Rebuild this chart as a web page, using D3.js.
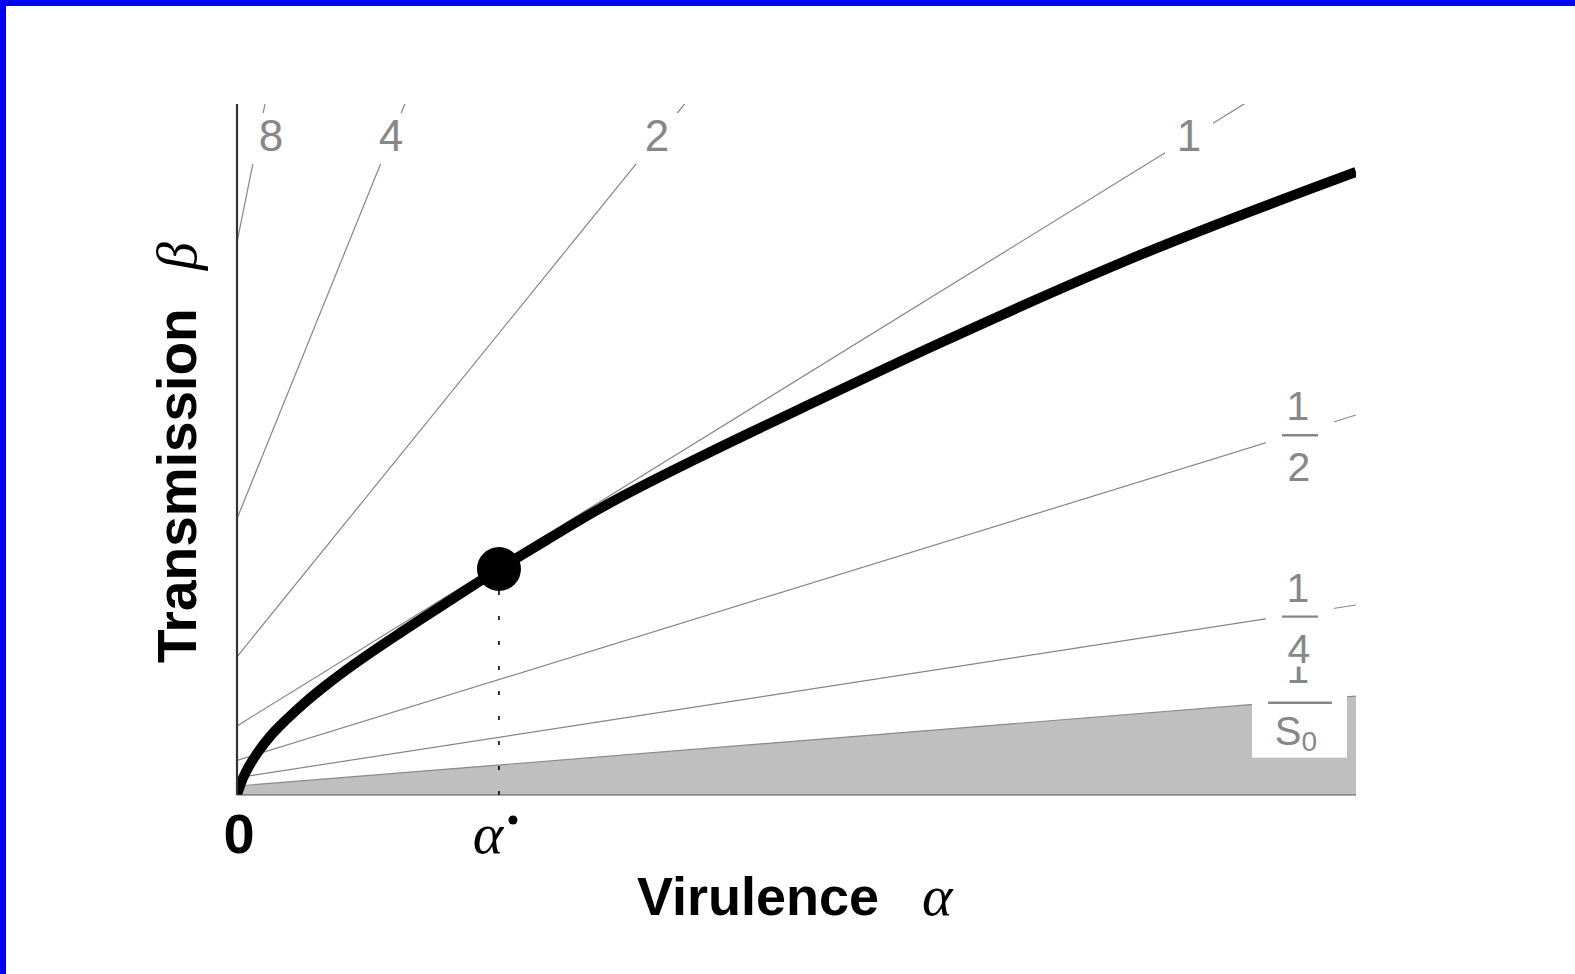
<!DOCTYPE html>
<html>
<head>
<meta charset="utf-8">
<script src="https://cdnjs.cloudflare.com/ajax/libs/d3/7.8.5/d3.min.js"></script>
<style>
	html, body { margin: 0; padding: 0; background: #fff; }
	svg { display: block; }
	.sans { font-family: "Liberation Sans", Arial, Helvetica, sans-serif; }
	.serif { font-family: "Liberation Serif", "Times New Roman", serif; font-style: italic; }
</style>
</head>
<body>
<svg id="chart" width="1575" height="974"></svg>
<script>
// axis ranges (arbitrary units)
var alphaDomain = [0, 10];
var betaDomain = [0, 10];

// background mortality, intercept of the iso-R lines: beta = R * (alpha + mu)
var mu = 1;

// iso-R lines and their labels
var rLevels = [8, 4, 2, 1, 0.5, 0.25];
var rNumer = ["8", "4", "2", "1", "1", "1"];
var rDenom = [null, null, null, null, "2", "4"];

// threshold 1/S0, below which the pathogen cannot invade (shaded)
var sThreshold = 0.13;

// trade-off curve
var curveAlpha = [0, 0.036, 0.089, 0.188, 0.295, 0.447, 0.608, 0.804, 1.037, 1.483, 1.903, 2.341, 2.797, 3.244, 4.138, 5.031, 6.282, 8.070, 10];
var curveBeta = [0, 0.174, 0.362, 0.622, 0.847, 1.100, 1.339, 1.599, 1.881, 2.373, 2.815, 3.271, 3.719, 4.146, 4.891, 5.586, 6.541, 7.815, 9.016];

// optimal virulence
var optAlpha = 2.341;
var optBeta = 3.271;

var svg = d3.select('#chart');

// blue frame on top and left
svg.append('rect').attr('x', 0).attr('y', 0).attr('width', 1575).attr('height', 6).attr('fill', '#0000ff');
svg.append('rect').attr('x', 0).attr('y', 0).attr('width', 6).attr('height', 974).attr('fill', '#0000ff');

var x = d3.scaleLinear().domain(alphaDomain).range([237, 1356]);
var y = d3.scaleLinear().domain(betaDomain).range([795, 104]);

var x0 = x.range()[0], x1 = x.range()[1],
	yTop = y.range()[1], yBot = y.range()[0];

svg.append('clipPath').attr('id', 'plot-clip')
	.append('rect')
	.attr('x', x0).attr('y', yTop)
	.attr('width', x1 - x0).attr('height', yBot - yTop);

var plot = svg.append('g').attr('clip-path', 'url(#plot-clip)');

// shaded region under 1/S0
var shade = d3.area()
	.x(function(a) { return x(a); })
	.y0(yBot)
	.y1(function(a) { return y(sThreshold * (a + mu)); });

plot.append('path')
	.datum(alphaDomain)
	.attr('d', shade)
	.attr('fill', '#bfbfbf');

plot.append('line')
	.attr('x1', x(alphaDomain[0])).attr('y1', y(sThreshold * (alphaDomain[0] + mu)))
	.attr('x2', x(alphaDomain[1])).attr('y2', y(sThreshold * (alphaDomain[1] + mu)))
	.attr('stroke', '#8a8a8a').attr('stroke-width', 1.2);

// iso-R lines
plot.selectAll('line.iso')
	.data(rLevels)
	.enter().append('line')
	.attr('class', 'iso')
	.attr('x1', x(alphaDomain[0]))
	.attr('y1', function(r) { return y(r * (alphaDomain[0] + mu)); })
	.attr('x2', x(alphaDomain[1]))
	.attr('y2', function(r) { return y(r * (alphaDomain[1] + mu)); })
	.attr('stroke', '#858585')
	.attr('stroke-width', 1.2);

// dotted drop line from the optimum
plot.append('line')
	.attr('x1', x(optAlpha)).attr('y1', y(optBeta) + 22)
	.attr('x2', x(optAlpha)).attr('y2', yBot)
	.attr('stroke', '#000').attr('stroke-width', 1.6)
	.attr('stroke-dasharray', '4,21');

// axes
svg.append('line')
	.attr('x1', x0).attr('y1', yBot).attr('x2', x1).attr('y2', yBot)
	.attr('stroke', '#555').attr('stroke-width', 1.2);
svg.append('line')
	.attr('x1', x0).attr('y1', yTop).attr('x2', x0).attr('y2', yBot)
	.attr('stroke', '#333').attr('stroke-width', 2.2);

// trade-off curve
var curve = d3.line()
	.x(function(d) { return x(d[0]); })
	.y(function(d) { return y(d[1]); })
	.curve(d3.curveMonotoneX);

plot.append('path')
	.datum(d3.zip(curveAlpha, curveBeta))
	.attr('d', curve)
	.attr('fill', 'none')
	.attr('stroke', '#000')
	.attr('stroke-width', 10)
	.attr('stroke-linecap', 'butt');

svg.append('circle')
	.attr('cx', x(optAlpha)).attr('cy', y(optBeta))
	.attr('r', 22)
	.attr('fill', '#000');

// labels of the iso-R lines
var grey = '#878787';
var labelLayer = svg.append('g').attr('class', 'sans');
var xs = 1300;

function fractionLabel(g, bar, numer, numerDy, box, barHalf) {
	g.append('rect')
		.attr('x', box[0]).attr('y', box[1])
		.attr('width', box[2] - box[0]).attr('height', box[3] - box[1])
		.attr('fill', '#fff');
	g.append('line')
		.attr('x1', xs - barHalf).attr('x2', xs + barHalf)
		.attr('y1', bar).attr('y2', bar)
		.attr('stroke', grey).attr('stroke-width', 2.4);
	g.append('text')
		.attr('x', xs - 2).attr('y', bar - numerDy)
		.attr('text-anchor', 'middle')
		.attr('font-size', 41).attr('fill', grey)
		.text(numer);
}

// 1/S0 first, the 1/4 label box covers the top of its numerator
var barS = y(sThreshold * (x.invert(xs) + mu)) + 2;
var gS = labelLayer.append('g');
fractionLabel(gS, barS, '1', 20, [1252, barS - 8, 1347, barS + 55], 32);
var sText = gS.append('text')
	.attr('x', xs - 4).attr('y', barS + 42)
	.attr('text-anchor', 'middle')
	.attr('font-size', 40).attr('fill', grey);
sText.append('tspan').text('S');
sText.append('tspan').attr('font-size', 28).attr('dy', 6).text('0');

rLevels.forEach(function(r, i) {
	var g = labelLayer.append('g');
	if (rDenom[i] == null) {
		// top labels, where the line crosses the band under the top edge
		var cy = 138;
		var cx = x(y.invert(cy) / r - mu);
		cx = Math.max(cx, x0 + 34);
		g.append('rect')
			.attr('x', cx - 24).attr('y', 113)
			.attr('width', 48).attr('height', 51)
			.attr('fill', '#fff');
		g.append('text')
			.attr('x', cx).attr('y', 151)
			.attr('text-anchor', 'middle')
			.attr('font-size', 44).attr('fill', grey)
			.text(rNumer[i]);
	} else {
		var bar = y(r * (x.invert(xs) + mu)) + 3;
		fractionLabel(g, bar, rNumer[i], 15, [1266, bar - 52, 1334, bar + 50], 18);
		g.append('text')
			.attr('x', xs - 1).attr('y', bar + 46)
			.attr('text-anchor', 'middle')
			.attr('font-size', 41).attr('fill', grey)
			.text(rDenom[i]);
	}
});

// tick labels
svg.append('text')
	.attr('class', 'sans')
	.attr('x', x(0) + 2).attr('y', 853)
	.attr('text-anchor', 'middle')
	.attr('font-size', 56).attr('font-weight', 'bold')
	.text('0');

svg.append('text')
	.attr('class', 'serif')
	.attr('x', x(optAlpha) - 11).attr('y', 853)
	.attr('text-anchor', 'middle')
	.attr('font-size', 58)
	.text('α');
svg.append('circle')
	.attr('cx', x(optAlpha) + 14).attr('cy', 820)
	.attr('r', 4.5).attr('fill', '#000');

// axis titles
svg.append('text')
	.attr('class', 'sans')
	.attr('x', 637).attr('y', 915)
	.attr('font-size', 54).attr('font-weight', 'bold')
	.text('Virulence');
svg.append('text')
	.attr('class', 'serif')
	.attr('x', 922).attr('y', 915)
	.attr('font-size', 58)
	.text('α');

var yTitle = svg.append('g').attr('transform', 'translate(196,663) rotate(-90)');
yTitle.append('text')
	.attr('class', 'sans')
	.attr('x', 0).attr('y', 0)
	.attr('font-size', 55).attr('font-weight', 'bold')
	.text('Transmission');
yTitle.append('text')
	.attr('class', 'serif')
	.attr('x', 393).attr('y', 0)
	.attr('font-size', 56)
	.text('β');
</script>
</body>
</html>
